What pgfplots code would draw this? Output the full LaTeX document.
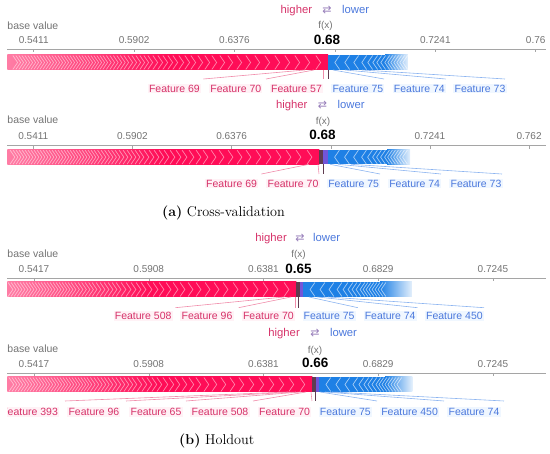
\documentclass[border=0pt]{standalone}
\usepackage{pgfplots}
\pgfplotsset{compat=1.18}
\usepackage{pgfplotstable}
\usepackage{fontspec}
\setsansfont{Liberation Sans}
\newfontfamily\dejavu{DejaVu Sans}

\definecolor{shapred}{RGB}{255,13,87}
\definecolor{redlight}{RGB}{255,125,165}
\definecolor{shapblue}{RGB}{30,128,229}
\definecolor{redtxt}{RGB}{214,50,105}
\definecolor{bluetxt}{RGB}{75,120,220}
\definecolor{axgray}{RGB}{165,165,165}
\definecolor{txtgray}{RGB}{115,115,115}
\definecolor{darkseg}{RGB}{95,60,80}
\definecolor{purpseg}{RGB}{115,85,215}
\definecolor{redline}{RGB}{240,140,170}
\definecolor{blueline}{RGB}{140,180,240}
\definecolor{redbg}{RGB}{255,242,246}
\definecolor{bluebg}{RGB}{240,247,255}
\definecolor{arrgray}{RGB}{150,125,185}

\pgfdeclareplotmark{rch}{%
  \pgfpathmoveto{\pgfqpoint{-2.4pt}{7pt}}%
  \pgfpathlineto{\pgfqpoint{2.4pt}{0pt}}%
  \pgfpathlineto{\pgfqpoint{-2.4pt}{-7pt}}%
  \pgfusepathqstroke}
\pgfdeclareplotmark{bch}{%
  \pgfpathmoveto{\pgfqpoint{2.4pt}{7pt}}%
  \pgfpathlineto{\pgfqpoint{-2.4pt}{0pt}}%
  \pgfpathlineto{\pgfqpoint{2.4pt}{-7pt}}%
  \pgfusepathqstroke}

% chevron offsets from the red/blue boundary, in px (second column unused)
\pgfplotstableread{
d c
10 0
21 0
31 0
41 0
51 0
61 0
71 0
80 0
89 0
98 0
106 0
114 0
121 0
128 0
135 0
141 0
147 0
153 0
158 0
163 0
168 0
173 0
178 0
182 0
186 0
190 0
194 0
198 0
202 0
205.5 0
209 0
212.5 0
216 0
219.5 0
223 0
226 0
229 0
232 0
235 0
238 0
241 0
244 0
247 0
250 0
253 0
256 0
259 0
262 0
265 0
268 0
271 0
274 0
277 0
280 0
283 0
286 0
289 0
292 0
295 0
298 0
301 0
304 0
307 0
310 0
313 0
}\redchev
\pgfplotstableread{
d c
9 0
19 0
28 0
36 0
42 0
47 0
51 0
55 0
59 0
62 0
65 0
68 0
71 0
74 0
77 0
80 0
}\bluechev

\pgfplotsset{
  forceaxis/.style={
    scale only axis, width=538.7pt, height=45pt,
    ymin=-45, ymax=0, enlargelimits=false,
    axis x line*=top, axis y line=none,
    x axis line style={axgray, line width=0.6pt},
    tick align=inside, major tick length=3pt,
    xtick style={axgray, line width=0.5pt},
    xticklabel style={font=\sffamily\fontsize{10}{12}\selectfont, text=txtgray, anchor=base, yshift=5.7pt},
  },
  redbar/.style={draw=none, left color=redlight, right color=shapred, middle color=shapred},
  rchev/.style={only marks, mark=rch, mark options={white, opacity=0.5, line width=0.7pt}},
  bchev/.style={only marks, mark=bch, mark options={white, opacity=0.6, line width=0.7pt}},
}
\newcommand{\conn}[5]{\addplot[#1, line width=0.6pt] table[x expr={\Lz+(\thisrowno{0}-\pz)/\sc}, y index=1, row sep=\\] {px y\\ #2 #3\\ #4 #5\\};}

\tikzset{
  rlab/.style={font=\sffamily\fontsize{10.5}{12}\selectfont, text=redtxt, anchor=base, fill=redbg, inner sep=1.2pt},
  blab/.style={font=\sffamily\fontsize{10.5}{12}\selectfont, text=bluetxt, anchor=base, fill=bluebg, inner sep=1.2pt},
  bval/.style={font=\sffamily\fontsize{10.5}{12}\selectfont, text=txtgray, anchor=base west, inner sep=0pt},
  fxl/.style={font=\sffamily\fontsize{10}{12}\selectfont, text=txtgray, anchor=base, inner sep=0pt},
  fval/.style={font=\sffamily\bfseries\fontsize{13.5}{15}\selectfont, anchor=base, inner sep=0pt},
  hi/.style={font=\sffamily\fontsize{11.3}{13}\selectfont, text=redtxt, anchor=base east, inner sep=0pt},
  lo/.style={font=\sffamily\fontsize{11.3}{13}\selectfont, text=bluetxt, anchor=base west, inner sep=0pt},
  arr/.style={font=\dejavu\fontsize{11}{13}\selectfont, text=arrgray, anchor=base, inner sep=0pt},
  capt/.style={font=\rmfamily\fontsize{14.2}{16}\selectfont, anchor=base, inner sep=0pt},
}

\begin{document}
\begin{tikzpicture}
\path[use as bounding box] (0pt,0pt) rectangle (550pt,-454pt);

% ---------- (a) first plot ----------
\def\Lz{0.1647}\def\pz{33.7}\def\sc{502}
\def\bnd{0.7514}\def\bst{0.7514}
\begin{axis}[forceaxis, at={(7.3pt,-49.3pt)}, anchor=north west,
  xmin=0.11211, xmax=1.18522,
  xtick={0.1647,0.3647,0.5647,0.7647,0.9647,1.1647},
  xticklabels={0.5411,0.5902,0.6376,,0.7241,0.76}]
  \addplot[redbar] coordinates {(0.11211,-5.7) (0.7514,-5.7) (0.7514,-20.7) (0.11211,-20.7)};
  \addplot[draw=none, fill=shapblue] coordinates {(0.7514,-5.7) (0.8645,-5.7) (0.8645,-20.7) (0.7514,-20.7)};
  \addplot[draw=none, left color=shapblue, right color=shapblue!12] coordinates {(0.8645,-5.7) (0.9103,-5.7) (0.9103,-20.7) (0.8645,-20.7)};
  \addplot[rchev, restrict x to domain=0.118:0.7514] table[x expr=\bnd-\thisrow{d}/\sc, y expr=-13.2] {\redchev};
  \addplot[bchev, restrict x to domain=0.7514:0.905] table[x expr=\bst+\thisrow{d}/\sc, y expr=-13.2] {\bluechev};
  \conn{redline}{305}{-20.7}{203.5}{-29.7}
  \conn{redline}{314}{-20.7}{266}{-29.7}
  \conn{redline}{323}{-20.7}{323}{-29.7}
  \conn{blueline}{333}{-20.7}{384}{-29.7}
  \conn{blueline}{345}{-20.7}{445.6}{-29.7}
  \conn{blueline}{362}{-20.7}{505}{-29.7}
  \conn{darkseg}{328.2}{-20.7}{328.2}{-29.7}
\end{axis}
\node[hi] at (312.3pt,-14pt) {higher};
\node[arr] at (327pt,-14pt) {⇄};
\node[lo] at (342pt,-14pt) {lower};
\node[bval] at (7.3pt,-30pt) {base value};
\node[fxl] at (325.5pt,-28.5pt) {f(x)};
\node[fval] at (327pt,-45pt) {0.68};
\node[rlab] at (174.4pt,-92.1pt) {Feature 69};
\node[rlab] at (235.8pt,-92.1pt) {Feature 70};
\node[rlab] at (296.5pt,-92.1pt) {Feature 57};
\node[blab] at (357.9pt,-92.1pt) {Feature 75};
\node[blab] at (419.3pt,-92.1pt) {Feature 74};
\node[blab] at (480pt,-92.1pt) {Feature 73};

% ---------- (a) second plot ----------
\def\Lz{0.1647}\def\pz{33.3}\def\sc{495.8}
\def\bnd{0.7419}\def\bst{0.7591}
\begin{axis}[forceaxis, at={(7.3pt,-145.7pt)}, anchor=north west,
  xmin=0.11226, xmax=1.19878,
  xtick={0.1647,0.3647,0.5647,0.7647,0.9647,1.1647},
  xticklabels={0.5411,0.5902,0.6376,,0.7241,0.762}]
  \addplot[redbar] coordinates {(0.11226,-4.3) (0.7419,-4.3) (0.7419,-18.6) (0.11226,-18.6)};
  \addplot[draw=none, fill=darkseg] coordinates {(0.7419,-4.3) (0.7500,-4.3) (0.7500,-18.6) (0.7419,-18.6)};
  \addplot[draw=none, fill=purpseg] coordinates {(0.7500,-4.3) (0.7591,-4.3) (0.7591,-18.6) (0.7500,-18.6)};
  \addplot[draw=none, fill=shapblue] coordinates {(0.7591,-4.3) (0.8781,-4.3) (0.8781,-18.6) (0.7591,-18.6)};
  \addplot[draw=none, left color=shapblue, right color=shapblue!12] coordinates {(0.8781,-4.3) (0.9245,-4.3) (0.9245,-18.6) (0.8781,-18.6)};
  \addplot[rchev, restrict x to domain=0.118:0.7419] table[x expr=\bnd-\thisrow{d}/\sc, y expr=-11.45] {\redchev};
  \addplot[bchev, restrict x to domain=0.7591:0.92] table[x expr=\bst+\thisrow{d}/\sc, y expr=-11.45] {\bluechev};
  \conn{redline}{309}{-18.6}{261.4}{-28.3}
  \conn{redline}{318}{-18.6}{319}{-28.3}
  \conn{blueline}{330}{-18.6}{380}{-28.3}
  \conn{blueline}{338}{-18.6}{441}{-28.3}
  \conn{blueline}{351}{-18.6}{502}{-28.3}
  \conn{darkseg}{323}{-18.6}{323}{-28.3}
\end{axis}
\node[hi] at (307.7pt,-108.5pt) {higher};
\node[arr] at (322.5pt,-108.5pt) {⇄};
\node[lo] at (337.5pt,-108.5pt) {lower};
\node[bval] at (7.3pt,-124pt) {base value};
\node[fxl] at (323pt,-125pt) {f(x)};
\node[fval] at (322.5pt,-140pt) {0.68};
\node[rlab] at (231.6pt,-187.1pt) {Feature 69};
\node[rlab] at (293pt,-187.1pt) {Feature 70};
\node[blab] at (353.7pt,-187.1pt) {Feature 75};
\node[blab] at (414.7pt,-187.1pt) {Feature 74};
\node[blab] at (476pt,-187.1pt) {Feature 73};
\node[capt] at (223.5pt,-217pt) {\textbf{(a)} Cross-validation};

% ---------- (b) first plot ----------
\def\Lz{0.1672}\def\pz{34}\def\sc{573.75}
\def\bnd{0.6247}\def\bst{0.6369}
\begin{axis}[forceaxis, at={(7.3pt,-278pt)}, anchor=north west,
  xmin=0.12066, xmax=1.05957,
  xtick={0.1672,0.3672,0.5672,0.7672,0.9672},
  xticklabels={0.5417,0.5908,0.6381,0.6829,0.7245}]
  \addplot[redbar] coordinates {(0.12066,-4) (0.6247,-4) (0.6247,-19) (0.12066,-19)};
  \addplot[draw=none, fill=darkseg] coordinates {(0.6247,-4) (0.6308,-4) (0.6308,-19) (0.6247,-19)};
  \addplot[draw=none, fill=purpseg] coordinates {(0.6308,-4) (0.6369,-4) (0.6369,-19) (0.6308,-19)};
  \addplot[draw=none, fill=shapblue] coordinates {(0.6369,-4) (0.7703,-4) (0.7703,-19) (0.6369,-19)};
  \addplot[draw=none, left color=shapblue, right color=shapblue!12] coordinates {(0.7703,-4) (0.8260,-4) (0.8260,-19) (0.7703,-19)};
  \addplot[rchev, restrict x to domain=0.126:0.6247] table[x expr=\bnd-\thisrow{d}/\sc, y expr=-11.5] {\redchev};
  \addplot[bchev, restrict x to domain=0.6369:0.82] table[x expr=\bst+\thisrow{d}/\sc, y expr=-11.5] {\bluechev};
  \conn{redline}{284}{-19}{175.4}{-29.7}
  \conn{redline}{291}{-19}{238.6}{-29.7}
  \conn{redline}{295}{-19}{295}{-29.7}
  \conn{blueline}{309}{-19}{357.9}{-29.7}
  \conn{blueline}{317.5}{-19}{417.5}{-29.7}
  \conn{blueline}{328}{-19}{484}{-29.7}
  \conn{darkseg}{298}{-19}{298}{-29.7}
\end{axis}
\node[hi] at (287pt,-242pt) {higher};
\node[arr] at (300pt,-242pt) {⇄};
\node[lo] at (313pt,-242pt) {lower};
\node[bval] at (7.3pt,-258pt) {base value};
\node[fxl] at (298.6pt,-258pt) {f(x)};
\node[fval] at (298.6pt,-273.3pt) {0.65};
\node[rlab] at (143.2pt,-319.8pt) {Feature 508};
\node[rlab] at (207pt,-319.8pt) {Feature 96};
\node[rlab] at (268.4pt,-319.8pt) {Feature 70};
\node[blab] at (329.1pt,-319.8pt) {Feature 75};
\node[blab] at (390.2pt,-319.8pt) {Feature 74};
\node[blab] at (454.4pt,-319.8pt) {Feature 450};

% ---------- (b) second plot ----------
\def\Lz{0.1672}\def\pz{34}\def\sc{573.75}
\def\bnd{0.6523}\def\bst{0.6645}
\begin{axis}[forceaxis, at={(7.3pt,-373pt)}, anchor=north west,
  xmin=0.12066, xmax=1.05957,
  xtick={0.1672,0.3672,0.5672,0.7672,0.9672},
  xticklabels={0.5417,0.5908,0.6381,0.6829,0.7245}]
  \addplot[redbar] coordinates {(0.12066,-4) (0.6523,-4) (0.6523,-19) (0.12066,-19)};
  \addplot[draw=none, fill=darkseg] coordinates {(0.6523,-4) (0.6584,-4) (0.6584,-19) (0.6523,-19)};
  \addplot[draw=none, fill=purpseg] coordinates {(0.6584,-4) (0.6645,-4) (0.6645,-19) (0.6584,-19)};
  \addplot[draw=none, fill=shapblue] coordinates {(0.6645,-4) (0.7790,-4) (0.7790,-19) (0.6645,-19)};
  \addplot[draw=none, left color=shapblue, right color=shapblue!12] coordinates {(0.7790,-4) (0.8265,-4) (0.8265,-19) (0.7790,-19)};
  \addplot[rchev, restrict x to domain=0.126:0.6523] table[x expr=\bnd-\thisrow{d}/\sc, y expr=-11.5] {\redchev};
  \addplot[bchev, restrict x to domain=0.6645:0.82] table[x expr=\bst+\thisrow{d}/\sc, y expr=-11.5] {\bluechev};
  \conn{redline}{288}{-19}{65}{-28}
  \conn{redline}{296}{-19}{126}{-28}
  \conn{redline}{301}{-19}{186}{-28}
  \conn{redline}{306}{-19}{253}{-28}
  \conn{redline}{311}{-19}{312}{-28}
  \conn{blueline}{320}{-19}{377}{-28}
  \conn{blueline}{325}{-19}{444}{-28}
  \conn{blueline}{332}{-19}{504}{-28}
  \conn{darkseg}{315.5}{-19}{315.5}{-28}
\end{axis}
\node[hi] at (300pt,-337pt) {higher};
\node[arr] at (315pt,-337pt) {⇄};
\node[lo] at (329.8pt,-337pt) {lower};
\node[bval] at (7.3pt,-353pt) {base value};
\node[fxl] at (315pt,-354pt) {f(x)};
\node[fval] at (315.3pt,-367.7pt) {0.66};
\begin{scope}
  \clip (7pt,-395pt) rectangle (70pt,-425pt);
  \node[rlab, anchor=base east] at (59.3pt,-415.5pt) {Feature 393};
\end{scope}
\node[rlab] at (93.9pt,-415.5pt) {Feature 96};
\node[rlab] at (156pt,-415.5pt) {Feature 65};
\node[rlab] at (220pt,-415.5pt) {Feature 508};
\node[rlab] at (284.6pt,-415.5pt) {Feature 70};
\node[blab] at (345.3pt,-415.5pt) {Feature 75};
\node[blab] at (409.6pt,-415.5pt) {Feature 450};
\node[blab] at (474pt,-415.5pt) {Feature 74};
\node[capt] at (216.7pt,-445pt) {\textbf{(b)} Holdout};
\end{tikzpicture}
\end{document}
